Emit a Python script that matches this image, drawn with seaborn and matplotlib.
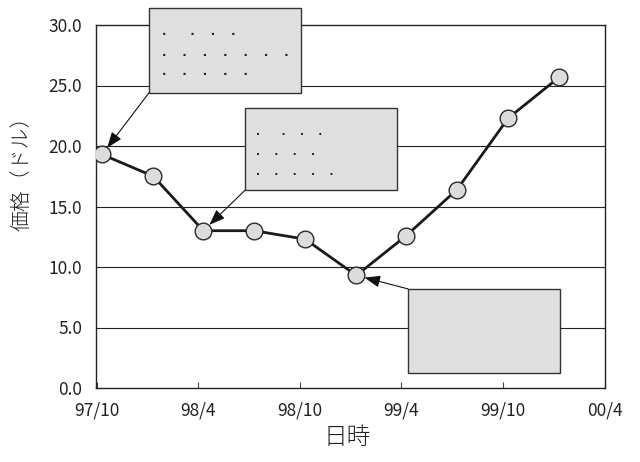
import matplotlib
matplotlib.use("Agg")
import matplotlib.pyplot as plt
import matplotlib.dates as mdates
from matplotlib.patches import Rectangle
import pandas as pd
import seaborn as sns

# ---- data ----
dates = ["1997-10-10", "1998-01-10", "1998-04-10", "1998-07-10", "1998-10-10",
         "1999-01-10", "1999-04-10", "1999-07-10", "1999-10-10", "2000-01-10"]
prices = [19.3, 17.5, 13.0, 13.0, 12.3, 9.3, 12.6, 16.4, 22.3, 25.7]
tick_dates = ["1997-10-01", "1998-04-01", "1998-10-01", "1999-04-01", "1999-10-01", "2000-04-01"]
tick_labels = ["97/10", "98/4", "98/10", "99/4", "99/10", "00/4"]
y_ticks = [0, 5, 10, 15, 20, 25, 30]
y_tick_labels = ["0.0", "5.0", "10.0", "15.0", "20.0", "25.0", "30.0"]
x_label = "日時"
y_label = "価格（ドル）"
box1_rows = [".      .    .    .", ".    .    .    .    .    .    .", ".    .    .    .    ."]
box2_rows = [".      .    .    .", ".    .    .    .", ".    .    .    .    ."]

df = pd.DataFrame({"date": pd.to_datetime(dates), "price": prices})

sns.set_theme(style="white")
plt.rcParams["font.family"] = ["Noto Sans CJK JP", "DejaVu Sans"]

fig = plt.figure(figsize=(6.4, 4.62), dpi=100)
ax = fig.add_axes([96/640, 1-388/462, 509/640, 363/462])

sns.lineplot(data=df, x="date", y="price", ax=ax, color="#1a1a1a", linewidth=2.0,
             marker="o", markersize=12, markerfacecolor="#dcdcdc",
             markeredgecolor="#2a2a2a", markeredgewidth=1.0, zorder=5)

ax.set_ylim(0, 30)
ax.set_xlim(pd.Timestamp("1997-09-29"), pd.Timestamp("2000-04-01"))
ax.set_yticks(y_ticks)
ax.set_yticklabels(y_tick_labels, fontsize=12.5, color="#222222")
ax.set_xticks(pd.to_datetime(tick_dates))
ax.set_xticklabels(tick_labels, fontsize=12.5, color="#222222")
ax.tick_params(axis="x", direction="in", length=4, width=0.8, color="#444444", pad=10, bottom=True)
ax.tick_params(axis="y", length=0, pad=10)

ax.set_xlabel(x_label, fontsize=17, color="#222222", fontweight="light")
ax.xaxis.set_label_coords(0.494, -0.103)
ax.set_ylabel(y_label, fontsize=15, color="#222222", fontweight="light")
ax.yaxis.set_label_coords(-0.125, 0.604)

for s in ax.spines.values():
    s.set_color("#222222")
    s.set_linewidth(1.0)

for y in y_ticks[1:-1]:
    ax.axhline(y, color="#222222", linewidth=0.8, zorder=1)

# ---- callout boxes ----
boxes = [
    (0.104, 0.813, 0.299, 0.234),
    (0.293, 0.545, 0.298, 0.226),
    (0.613, 0.041, 0.299, 0.232),
]
for (bx, by, bw, bh) in boxes:
    ax.add_patch(Rectangle((bx, by), bw, bh, transform=ax.transAxes, facecolor="#e0e0e0",
                           edgecolor="#333333", linewidth=1.0, zorder=3, clip_on=False))

row_y1 = [0.972, 0.915, 0.862]
for txt, yy in zip(box1_rows, row_y1):
    ax.text(0.130, yy, txt, transform=ax.transAxes, fontsize=8.4, family="DejaVu Sans",
            fontweight="bold", color="#222222", ha="left", va="baseline", zorder=4)
row_y2 = [0.697, 0.642, 0.587]
for txt, yy in zip(box2_rows, row_y2):
    ax.text(0.314, yy, txt, transform=ax.transAxes, fontsize=7.4, family="DejaVu Sans",
            fontweight="bold", color="#222222", ha="left", va="baseline", zorder=4)

arrowprops = dict(arrowstyle="-|>,head_length=0.8,head_width=0.3", mutation_scale=12,
                  color="#111111", lw=0.8, shrinkA=0, shrinkB=6)
for idx, (sx, sy) in [(0, (0.104, 0.813)), (2, (0.293, 0.545)), (5, (0.613, 0.273))]:
    ax.annotate("", xy=(mdates.date2num(df["date"][idx]), prices[idx]), xycoords="data",
                xytext=(sx, sy), textcoords="axes fraction", arrowprops=arrowprops, zorder=6)

fig.savefig("out.png", dpi=100)
